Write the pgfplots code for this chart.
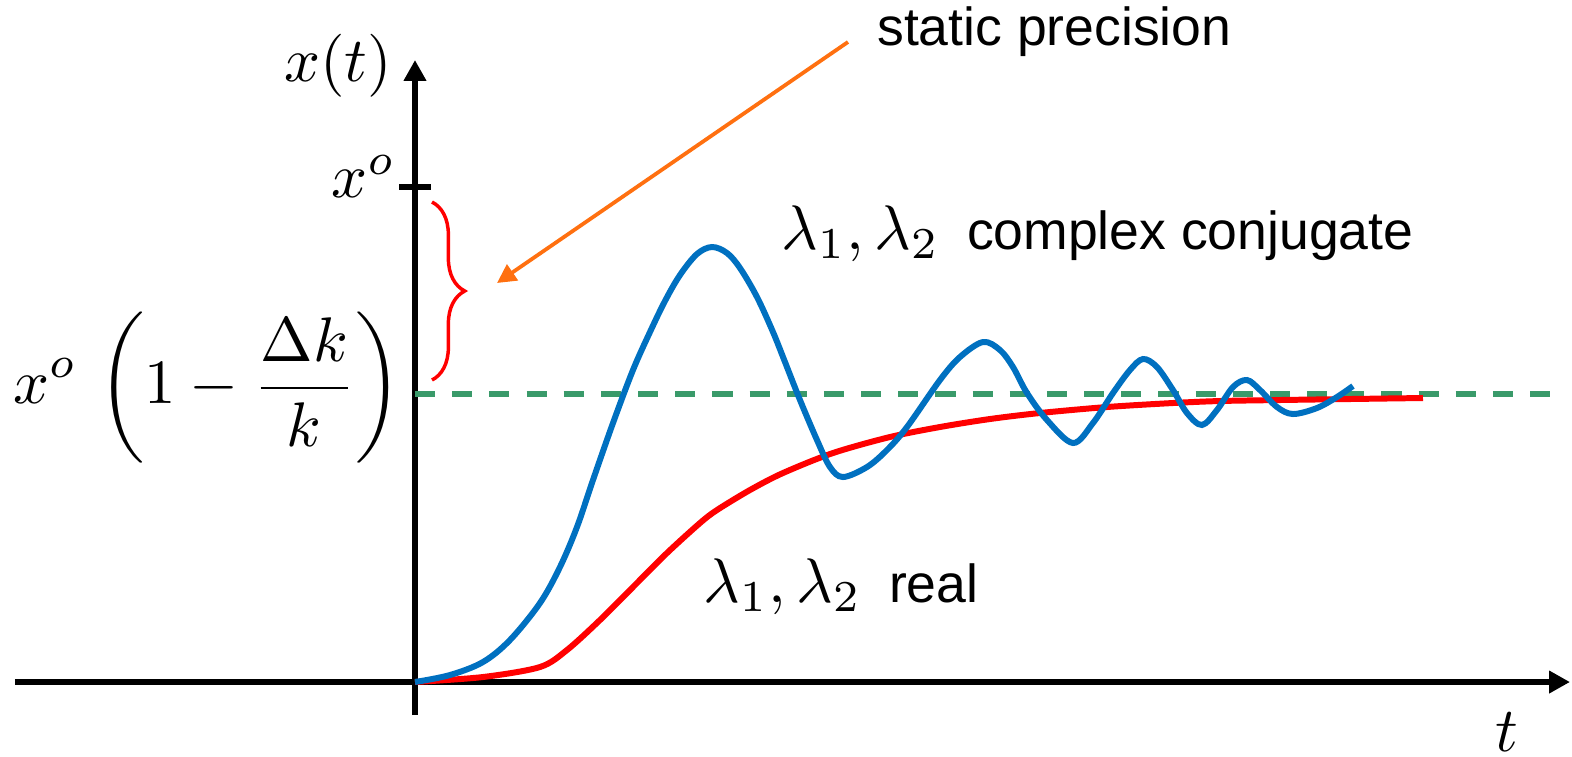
\documentclass[border=0pt]{standalone}
\usepackage{fontspec}
\usepackage{pgfplots}
\pgfplotsset{compat=1.18}
\usetikzlibrary{arrows.meta,decorations.pathreplacing}
\newfontfamily\labelfont{Liberation Sans}
\definecolor{respblue}{RGB}{0,112,192}
\definecolor{respred}{RGB}{255,0,0}
\definecolor{refgreen}{RGB}{58,154,106}
\definecolor{notearrow}{RGB}{255,112,16}
\newcommand{\lbl}[1]{{\labelfont\fontsize{8.5}{10}\selectfont #1}}

\begin{document}
\begin{tikzpicture}
\begin{axis}[
  scale only axis,
  width=246.83pt, height=103.97pt,
  xmin=-400, xmax=1155, ymin=-33, ymax=622,
  axis lines=middle,
  axis line style={line width=0.9pt, -{Triangle[length=3.3pt,width=3.4pt]}},
  xtick=\empty, ytick={495}, yticklabels={},
  tick align=center, major tick length=5pt,
  every tick/.style={black, line width=1pt},
  clip=false,
]
% final value x^o(1 - dk/k)
\addplot[refgreen, line width=0.8pt, dash pattern=on 3.2pt off 2.7pt]
  coordinates {(0,288) (1147,288)};
% real eigenvalues: overdamped response
\addplot[respred, line width=0.95pt, smooth, tension=0.5] coordinates {
(0,0) (68,5) (125,15) (152,32) (185,62) (218,95) (252,129) (285,159)
(302,172) (335,192) (368,209) (418,229) (475,245) (525,255) (575,263)
(625,269) (692,275) (758,279) (805,281) (865,282) (935,283) (1008,284)
};
% complex conjugate eigenvalues: damped oscillation
\addplot[respblue, line width=0.95pt, smooth, tension=0.55] coordinates {
(0,0) (35,7) (68,20) (95,42) (125,79) (145,115) (162,155) (178,202)
(198,259) (218,312) (235,350) (250,381) (265,407) (282,428) (297,435)
(312,429) (325,414) (342,385) (358,350) (370,320) (385,282) (402,242)
(415,215) (428,205) (452,215) (472,232) (492,255) (525,302) (545,325)
(568,340) (585,332) (598,315) (612,289) (632,262) (658,239) (678,259)
(698,289) (715,312) (728,323) (742,315) (758,292) (772,269) (787,257)
(802,272) (818,295) (832,302) (845,292) (862,275) (878,268) (902,274)
(922,285) (938,296)
};
% static precision brace and pointer
\draw[respred, line width=0.55pt, decorate, decoration={brace, amplitude=5.2pt}]
  (axis cs:17,480) -- (axis cs:17,302);
\draw[notearrow, line width=0.6pt, -{Triangle[length=3pt,width=3pt]}]
  (axis cs:433,640) -- (axis cs:82,399);
% labels
\node[anchor=base west, inner sep=0] at (axis cs:461,637) {\lbl{static precision}};
\node[anchor=base west, inner sep=0] at (axis cs:365,433)
  {$\lambda_1,\lambda_2$\hspace{4.4pt}\lbl{complex conjugate}};
\node[anchor=base west, inner sep=0] at (axis cs:287,80)
  {$\lambda_1,\lambda_2$\hspace{4.4pt}\lbl{real}};
\node[anchor=base east, inner sep=0] at (axis cs:-18,485) {$x^o$};
\node[anchor=east, inner sep=0] at (axis cs:-12,294)
  {$\displaystyle x^o\,\left(1-\frac{\Delta k}{k}\right)$};
\node[inner sep=0] at (axis cs:-77,616) {$x(t)$};
\node[inner sep=0] at (axis cs:1092,-50) {$t$};
% page extent
\coordinate (pagesw) at (axis cs:-415,-74);
\coordinate (pagene) at (axis cs:1157,682);
\end{axis}
\pgfresetboundingbox
\path (pagesw) rectangle (pagene);
\end{tikzpicture}
\end{document}
